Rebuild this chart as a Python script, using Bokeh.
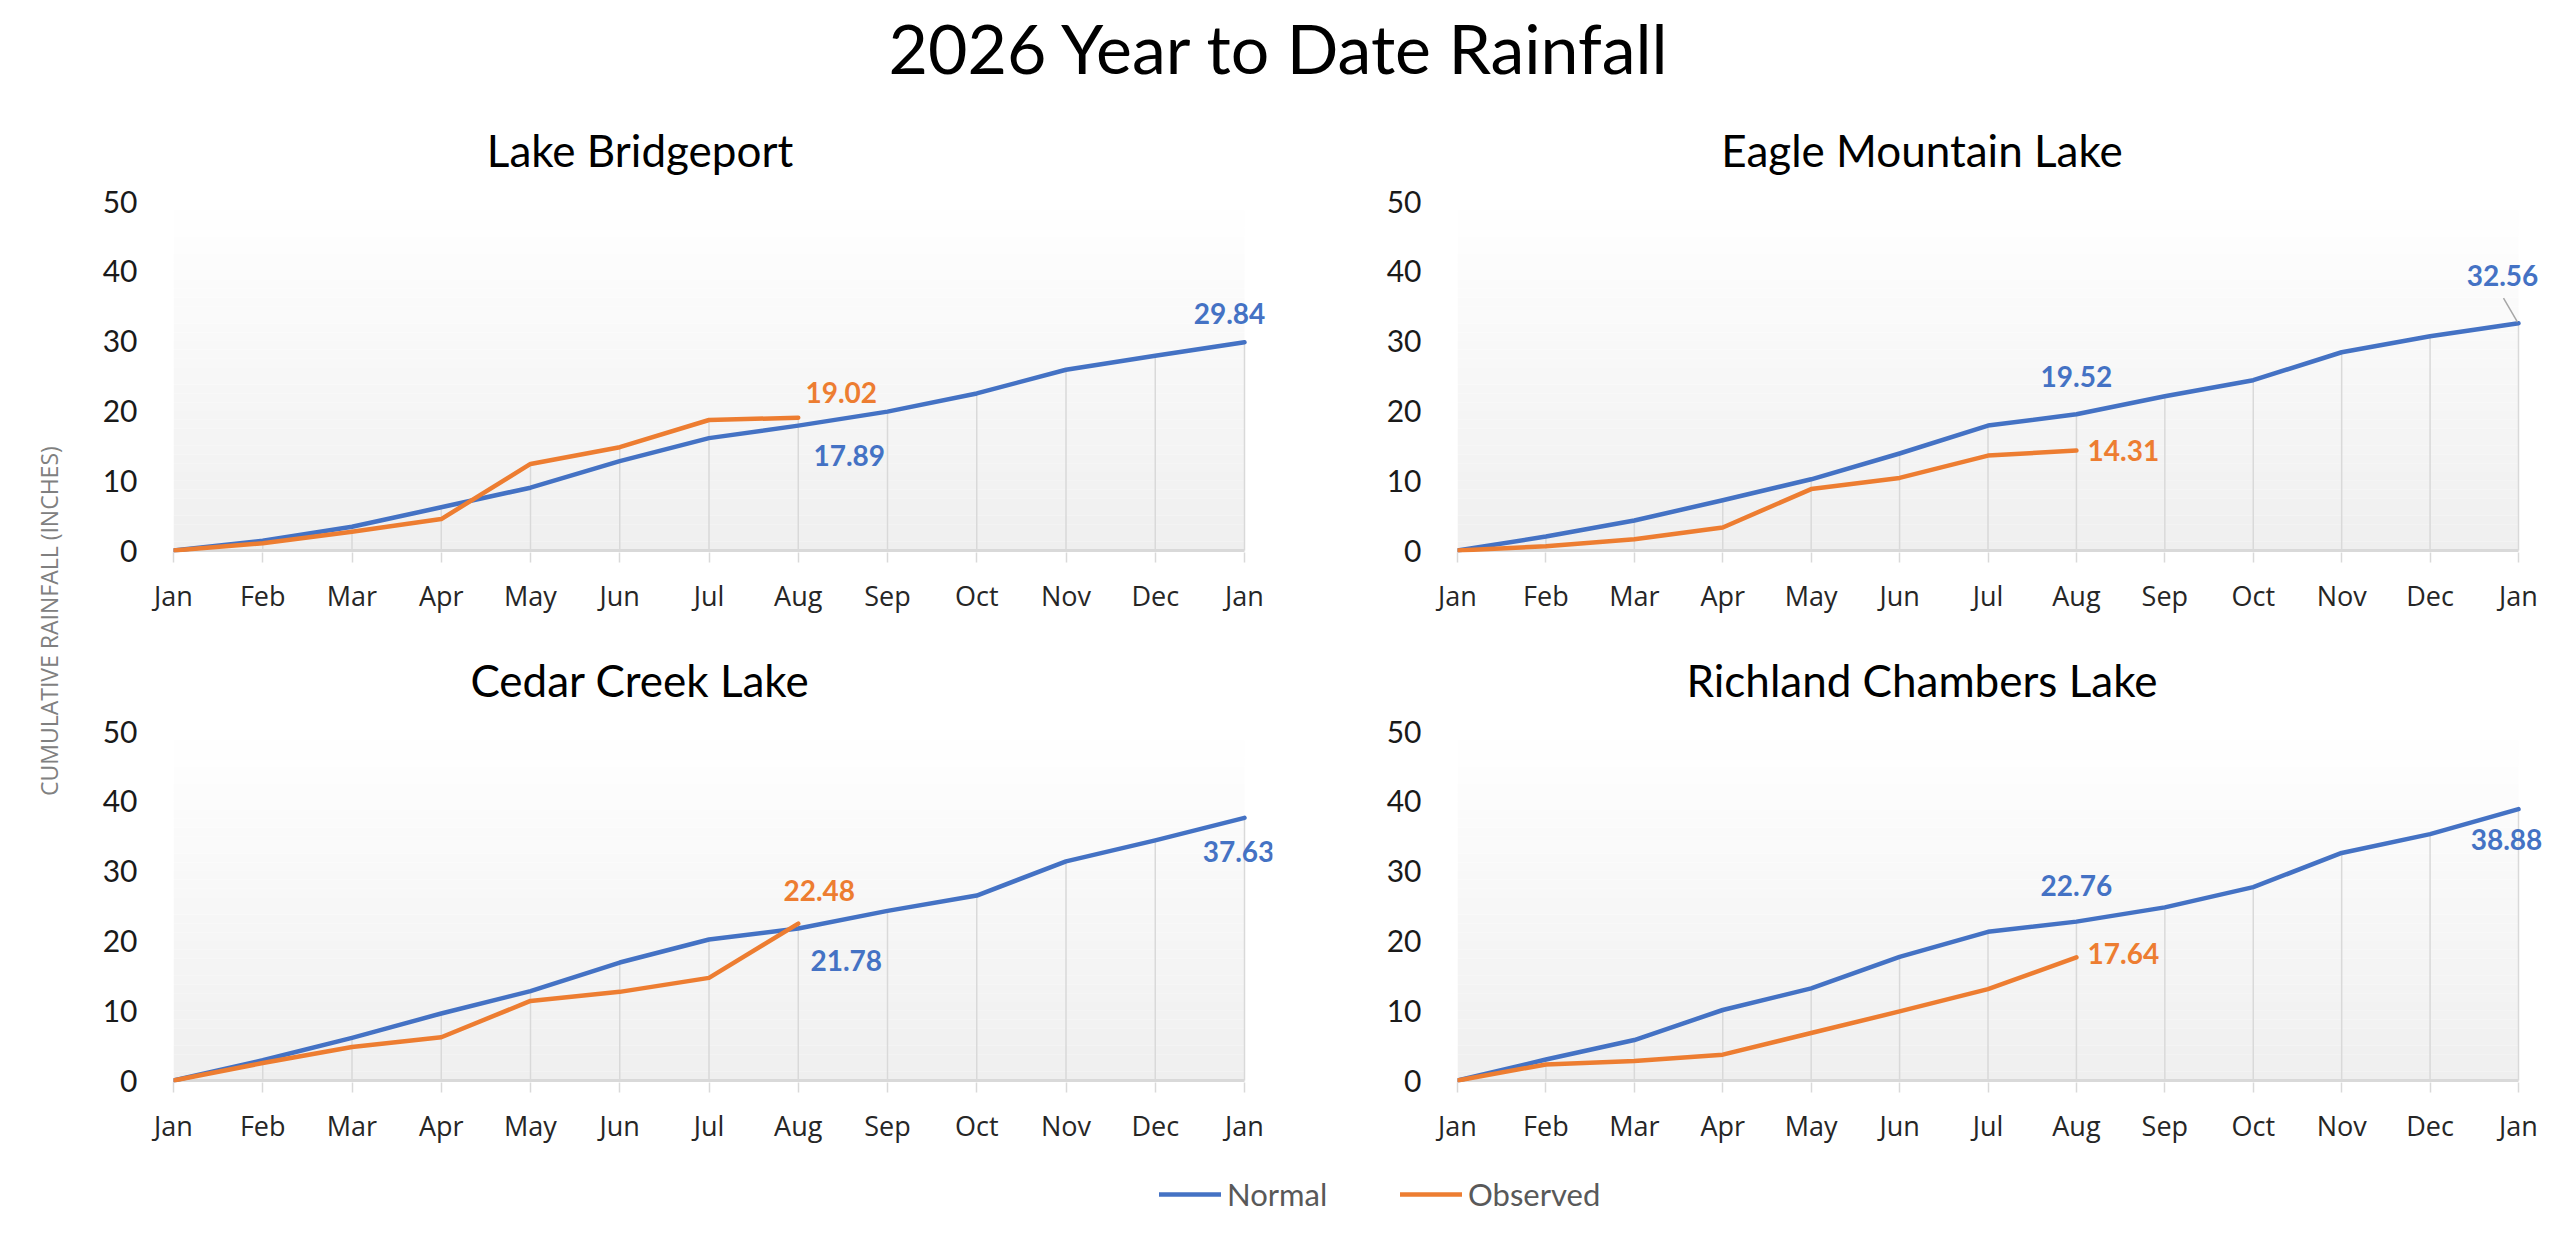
import numpy as np
from bokeh.plotting import figure
from bokeh.models import Range1d, FixedTicker, Label, BoxAnnotation, Legend, LegendItem
from bokeh.layouts import column, row
from bokeh.embed import file_html
from bokeh.resources import INLINE

# ---------------- data ----------------
months = ["Jan", "Feb", "Mar", "Apr", "May", "Jun", "Jul", "Aug", "Sep", "Oct", "Nov", "Dec", "Jan"]
month_index = list(range(len(months)))
y_ticks = [0, 10, 20, 30, 40, 50]
series_names = ["Normal", "Observed"]

main_title = "2026 Year to Date Rainfall"
y_axis_title = "CUMULATIVE RAINFALL (INCHES)"

lake_names = ["Lake Bridgeport", "Eagle Mountain Lake", "Cedar Creek Lake", "Richland Chambers Lake"]

bridgeport_normal = [0, 1.4, 3.4, 6.2, 9.0, 12.8, 16.1, 17.89, 19.9, 22.5, 25.9, 27.9, 29.84]
bridgeport_observed = [0, 1.05, 2.7, 4.5, 12.4, 14.8, 18.7, 19.02]

eagle_normal = [0, 2.0, 4.3, 7.2, 10.2, 13.9, 17.9, 19.52, 22.1, 24.4, 28.4, 30.7, 32.56]
eagle_observed = [0, 0.6, 1.6, 3.3, 8.8, 10.4, 13.6, 14.31]

cedar_normal = [0, 2.9, 6.1, 9.6, 12.8, 16.9, 20.2, 21.78, 24.3, 26.5, 31.4, 34.4, 37.63]
cedar_observed = [0, 2.5, 4.8, 6.2, 11.4, 12.7, 14.7, 22.48]

richland_normal = [0, 3.0, 5.8, 10.1, 13.2, 17.7, 21.3, 22.76, 24.8, 27.7, 32.6, 35.3, 38.88]
richland_observed = [0, 2.3, 2.8, 3.7, 6.8, 9.9, 13.1, 17.64]

# ---------------- style ----------------
BLUE = "#4472C4"
ORANGE = "#ED7D31"
GRID = "#d9d9d9"
FONT = "Lato"
TICKFONT = "Open Sans"

PANEL_H = 530
VAL_PX = 349        # pixels from 0 to 50
TOP_PX = 86         # pixels above the 50 line (title room, inside frame)
BOT_PX = 2          # pixels below the 0 line (inside frame)
BORDER_BOTTOM = PANEL_H - VAL_PX - TOP_PX - BOT_PX


def make_panel(name, normal, observed, label_specs, width, border_left, month_px, extra_px,
               title_dx, leader=False):
    x0, x1 = month_index[0], month_index[-1]
    y_lo, y_hi = y_ticks[0], y_ticks[-1]
    xs = (x1 - x0) / month_px          # data units per pixel
    ys = (y_hi - y_lo) / VAL_PX
    border_right = width - border_left - month_px - extra_px
    p = figure(width=width, height=PANEL_H,
               x_range=Range1d(x0, x1 + extra_px * xs),
               y_range=Range1d(y_lo - BOT_PX * ys, y_hi + TOP_PX * ys),
               output_backend="svg", toolbar_location=None,
               min_border_left=border_left, min_border_right=border_right,
               min_border_top=0, min_border_bottom=BORDER_BOTTOM,
               background_fill_color="white", border_fill_color="white", outline_line_color=None)
    p.xgrid.visible = False
    p.ygrid.visible = False

    # gradient plot-area fill (white at top to light grey at bottom)
    nb = 40
    for i in range(nb):
        b = y_lo + (y_hi - y_lo) * i / nb
        t = y_lo + (y_hi - y_lo) * (i + 1) / nb
        g = int(round(239 + (255 - 239) * (i + 0.5) / nb))
        p.add_layout(BoxAnnotation(left=x0, right=x1, bottom=b, top=t, fill_color=(g, g, g),
                                   fill_alpha=1.0, line_color=None, level="underlay"))

    # drop lines
    n_obs = len(observed)
    tops = [max(normal[i], observed[i]) if i < n_obs else normal[i] for i in month_index]
    p.segment(x0=month_index, y0=[y_lo] * len(month_index), x1=month_index, y1=tops,
              line_color=GRID, line_width=1.5)
    # category axis line
    p.segment(x0=[x0], y0=[y_lo], x1=[x1], y1=[y_lo], line_color=GRID, line_width=3)

    p.line(month_index, normal, line_color=BLUE, line_width=4.5, line_join="round", line_cap="round")
    p.line(month_index[:n_obs], observed, line_color=ORANGE, line_width=4.5, line_join="round",
           line_cap="round")

    for key, idx, dx, dy in label_specs:
        vals = normal if key == "n" else observed
        col = BLUE if key == "n" else ORANGE
        p.add_layout(Label(x=month_index[idx], y=vals[idx], text=f"{vals[idx]:.2f}",
                           x_offset=dx, y_offset=dy, text_align="center", text_baseline="middle",
                           text_font=FONT, text_font_style="bold", text_font_size="28px",
                           text_color=col))

    if leader:
        xe = month_index[-1]
        ye = normal[-1]
        p.segment(x0=[xe - 15 * xs], y0=[ye + 25 * ys], x1=[xe - 1 * xs], y1=[ye + 1 * ys],
                  line_color="#a6a6a6", line_width=1.5)

    # panel title (inside the frame's top margin)
    p.add_layout(Label(x=(x0 + x1) / 2, y=y_hi, text=name, x_offset=title_dx, y_offset=52,
                       text_align="center", text_baseline="middle", text_font=FONT,
                       text_font_size="44px", text_color="#000000"))

    xa = p.xaxis[0]
    xa.ticker = FixedTicker(ticks=month_index)
    xa.major_label_overrides = {i: m for i, m in zip(month_index, months)}
    xa.axis_line_color = None
    xa.major_tick_line_color = GRID
    xa.major_tick_line_width = 1.5
    xa.major_tick_out = 10
    xa.major_tick_in = 0
    xa.minor_tick_out = 0
    xa.minor_tick_in = 0
    xa.major_label_standoff = 14
    xa.major_label_text_font = TICKFONT
    xa.major_label_text_font_size = "27px"
    xa.major_label_text_color = "#262626"

    ya = p.yaxis[0]
    ya.ticker = FixedTicker(ticks=y_ticks)
    ya.axis_line_color = None
    ya.major_tick_line_color = None
    ya.minor_tick_line_color = None
    ya.major_tick_out = 0
    ya.major_tick_in = 0
    ya.minor_tick_out = 0
    ya.minor_tick_in = 0
    ya.major_label_standoff = 36
    ya.major_label_text_font = FONT
    ya.major_label_text_font_size = "30px"
    ya.major_label_text_color = "#1a1a1a"
    return p


YL_W = 66
LEFT_W, LEFT_BL, LEFT_M, LEFT_E = 1220, 107, 1071, 28
RIGHT_W, RIGHT_BL, RIGHT_M, RIGHT_E = 1263, 171, 1061, 31

p1 = make_panel(lake_names[0], bridgeport_normal, bridgeport_observed,
                [("n", 12, -15, 29), ("n", 7, 51, -30), ("o", 7, 43, 25)],
                LEFT_W, LEFT_BL, LEFT_M, LEFT_E, -69)
p2 = make_panel(lake_names[1], eagle_normal, eagle_observed,
                [("n", 12, -16, 48), ("n", 7, 0, 38), ("o", 7, 47, 0)],
                RIGHT_W, RIGHT_BL, RIGHT_M, RIGHT_E, -66, leader=True)
p3 = make_panel(lake_names[2], cedar_normal, cedar_observed,
                [("o", 7, 21, 33), ("n", 7, 48, -32), ("n", 12, -6, -34)],
                LEFT_W, LEFT_BL, LEFT_M, LEFT_E, -69)
p4 = make_panel(lake_names[3], richland_normal, richland_observed,
                [("n", 7, 0, 36), ("o", 7, 47, 4), ("n", 12, -12, -30)],
                RIGHT_W, RIGHT_BL, RIGHT_M, RIGHT_E, -66)

TOTAL_W = YL_W + LEFT_W + RIGHT_W
TITLE_H = 115
LEGEND_H = 46

# main title
tf = figure(width=TOTAL_W, height=TITLE_H, x_range=Range1d(0, 1), y_range=Range1d(0, 1),
            output_backend="svg", toolbar_location=None, min_border=0,
            x_axis_location=None, y_axis_location=None, outline_line_color=None)
tf.xgrid.visible = False
tf.ygrid.visible = False
tf.add_layout(Label(x=0.502, y=0.59, text=main_title, text_align="center", text_baseline="middle",
                    text_font=FONT, text_font_size="68px", text_color="#000000"))

# y axis title
yf = figure(width=YL_W, height=2 * PANEL_H, x_range=Range1d(0, 1), y_range=Range1d(0, 1),
            output_backend="svg", toolbar_location=None, min_border=0,
            x_axis_location=None, y_axis_location=None, outline_line_color=None)
yf.xgrid.visible = False
yf.ygrid.visible = False
yf.add_layout(Label(x=0.74, y=0.523, text=y_axis_title, angle=np.pi / 2, text_align="center",
                    text_baseline="middle", text_font=TICKFONT, text_font_size="23px",
                    text_color="#808080"))

# legend
lf = figure(width=TOTAL_W, height=LEGEND_H, x_range=Range1d(0, 1), y_range=Range1d(0, 1),
            output_backend="svg", toolbar_location=None, min_border=0,
            x_axis_location=None, y_axis_location=None, outline_line_color=None)
lf.xgrid.visible = False
lf.ygrid.visible = False
r_n = lf.line([-5, -4], [-5, -4], line_color=BLUE, line_width=4.5, line_cap="round")
r_o = lf.line([-5, -4], [-5, -4], line_color=ORANGE, line_width=4.5, line_cap="round")
leg = Legend(items=[LegendItem(label=series_names[0], renderers=[r_n]),
                    LegendItem(label=series_names[1], renderers=[r_o])],
             orientation="horizontal", location=(1159, 8), padding=0, margin=0,
             border_line_color=None, background_fill_alpha=0,
             glyph_width=62, glyph_height=20, label_standoff=6, label_width=104, spacing=69,
             label_text_font=FONT, label_text_font_size="31px", label_text_color="#595959")
lf.add_layout(leg)

layout = column(tf, row(yf, column(row(p1, p2), row(p3, p4))), lf)

open("out.html", "w").write(file_html(layout, INLINE))
